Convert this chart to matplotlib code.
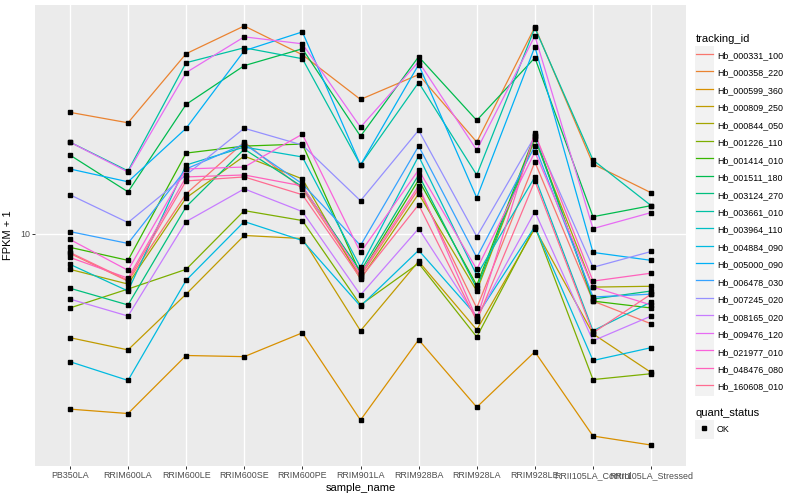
import matplotlib
matplotlib.use('Agg')
import matplotlib.pyplot as plt
import numpy as np
from matplotlib.lines import Line2D
from matplotlib.patches import Rectangle
from matplotlib.legend_handler import HandlerLine2D
from matplotlib.ticker import NullLocator

plt.rcParams['font.family'] = ['Liberation Sans', 'DejaVu Sans']

# sample names (x axis)
samples = ["PB350LA", "RRIM600LA", "RRIM600LE", "RRIM600SE", "RRIM600PE",
           "RRIM901LA", "RRIM928BA", "RRIM928LA", "RRIM928LE",
           "RRII105LA_Control", "RRII105LA_Stressed"]

tracking_ids = ["Hb_000331_100", "Hb_000358_220", "Hb_000599_360", "Hb_000809_250",
                "Hb_000844_050", "Hb_001226_110", "Hb_001414_010", "Hb_001511_180",
                "Hb_003124_270", "Hb_003661_010", "Hb_003964_110", "Hb_004884_090",
                "Hb_005000_090", "Hb_006478_030", "Hb_007245_020", "Hb_008165_020",
                "Hb_009476_120", "Hb_021977_010", "Hb_048476_080", "Hb_160608_010"]

# FPKM + 1 per gene, one value per sample
hb_000331_100 = [9.12, 8.02, 12.02, 15.28, 12.30, 8.20, 12.30, 7.08, 13.93, 7.31, 6.58]
hb_000358_220 = [17.54, 16.71, 23.02, 26.18, 22.91, 18.62, 20.89, 15.28, 26.06, 13.80, 12.08]
hb_000599_360 = [4.43, 4.34, 5.68, 5.65, 6.31, 4.21, 6.11, 4.47, 5.78, 3.91, 3.75]
hb_000809_250 = [6.17, 5.83, 7.55, 9.91, 9.77, 6.37, 8.79, 6.40, 10.23, 6.28, 5.25]
hb_000844_050 = [8.47, 7.91, 11.80, 14.32, 12.88, 8.09, 12.02, 7.66, 15.49, 7.80, 7.83]
hb_001226_110 = [7.08, 7.73, 8.47, 11.12, 10.62, 7.18, 8.71, 6.19, 10.33, 5.08, 5.22]
hb_001414_010 = [9.38, 8.83, 14.52, 15.00, 15.14, 8.28, 12.82, 7.87, 15.78, 7.31, 7.08]
hb_001511_180 = [14.39, 12.13, 18.20, 21.78, 23.55, 15.70, 22.70, 16.90, 22.59, 10.81, 11.38]
hb_003124_270 = [7.76, 7.18, 11.32, 14.79, 12.42, 8.40, 13.12, 7.76, 15.63, 7.38, 7.66]
hb_003661_010 = [15.28, 13.37, 22.08, 23.66, 22.49, 13.74, 20.14, 13.12, 25.94, 14.06, 11.38]
hb_003964_110 = [8.67, 7.66, 13.74, 14.93, 14.26, 8.55, 14.32, 8.24, 13.00, 6.37, 7.28]
hb_004884_090 = [5.52, 5.06, 8.05, 10.57, 9.68, 7.14, 9.25, 6.82, 10.33, 5.55, 5.89]
hb_005000_090 = [13.49, 12.71, 16.29, 23.34, 25.47, 13.74, 21.88, 11.80, 23.77, 9.16, 8.83]
hb_006478_030 = [10.09, 9.55, 13.49, 15.14, 12.59, 9.46, 15.00, 8.95, 15.00, 7.45, 7.55]
hb_007245_020 = [11.97, 10.52, 13.12, 16.29, 15.07, 11.64, 16.14, 9.86, 15.70, 8.55, 9.20]
hb_008165_020 = [7.38, 6.82, 10.57, 12.30, 11.07, 7.52, 10.23, 6.76, 11.07, 6.08, 6.82]
hb_009476_120 = [15.28, 13.30, 21.09, 24.89, 24.10, 16.37, 22.18, 14.72, 25.00, 10.23, 11.02]
hb_021977_010 = [9.73, 8.43, 13.49, 13.61, 15.85, 9.16, 13.43, 8.47, 14.59, 7.80, 7.18]
hb_048476_080 = [8.95, 8.13, 13.00, 13.12, 12.47, 8.28, 12.47, 6.73, 15.92, 8.02, 8.32]
hb_160608_010 = [9.16, 8.05, 12.76, 13.00, 11.97, 8.13, 11.43, 6.67, 12.76, 6.31, 7.55]

series = [hb_000331_100, hb_000358_220, hb_000599_360, hb_000809_250, hb_000844_050,
          hb_001226_110, hb_001414_010, hb_001511_180, hb_003124_270, hb_003661_010,
          hb_003964_110, hb_004884_090, hb_005000_090, hb_006478_030, hb_007245_020,
          hb_008165_020, hb_009476_120, hb_021977_010, hb_048476_080, hb_160608_010]

# ggplot hue palette for 20 levels
colours = ["#F8766D", "#EA8331", "#D89000", "#C09B00", "#A3A500", "#7CAE00", "#39B600",
           "#00BB4E", "#00BF7D", "#00C1A3", "#00BFC4", "#00BAE0", "#00B0F6", "#35A2FF",
           "#9590FF", "#C77CFF", "#E76BF3", "#FA62DB", "#FF62BC", "#FF6C91"]


class KeyHandler(HandlerLine2D):
    # grey key box behind the legend line, like ggplot
    def create_artists(self, legend, orig_handle, xdescent, ydescent,
                       width, height, fontsize, trans):
        pad = 2.2
        bg = Rectangle((-xdescent - 1, -ydescent - pad), width + 2, height + 2 * pad,
                       facecolor="#F2F2F2", edgecolor="none", transform=trans)
        arts = super().create_artists(legend, orig_handle, xdescent, ydescent,
                                      width, height, fontsize, trans)
        return [bg] + list(arts)


fig = plt.figure(figsize=(8, 5), dpi=100)
ax = fig.add_axes([35 / 800, 34 / 500, 651 / 800, 461 / 500])
ax.set_facecolor("#EBEBEB")

x = np.arange(len(samples))
for vals, col in zip(series, colours):
    ax.plot(x, vals, color=col, linewidth=0.9, zorder=2)
for vals in series:
    ax.plot(x, vals, linestyle="none", marker="s", markersize=2.5,
            color="black", zorder=3)

ax.set_yscale("log")
lo = np.log10(min(min(s) for s in series))
hi = np.log10(max(max(s) for s in series))
span = hi - lo
ax.set_ylim(10 ** (lo - 0.05 * span), 10 ** (hi + 0.05 * span))
ax.set_xlim(-0.6, len(samples) - 0.4)
ax.set_yticks([10])
ax.set_yticklabels(["10"])
ax.yaxis.set_minor_locator(NullLocator())
ax.set_xticks(x)
ax.set_xticklabels(samples)

ax.grid(True, color="white", linewidth=1.0)
ax.set_axisbelow(True)
for sp in ax.spines.values():
    sp.set_visible(False)
ax.tick_params(axis="both", length=2.0, width=0.7, color="#333333",
               labelcolor="#4D4D4D", labelsize=6.4, pad=1.5)

ax.set_xlabel("sample_name", fontsize=8, labelpad=2)
ax.set_ylabel("FPKM + 1", fontsize=8, labelpad=5)

legend_style = dict(loc="upper left", frameon=False, fontsize=6.4, title_fontsize=8,
                    handlelength=1.9, handleheight=1.75, handletextpad=0.45,
                    labelspacing=0.58, borderpad=0, borderaxespad=0,
                    alignment="left", handler_map={Line2D: KeyHandler()})

# tracking_id legend
handles = [Line2D([], [], color=c, linewidth=0.9) for c in colours]
leg1 = fig.legend(handles, tracking_ids, title="tracking_id",
                  bbox_to_anchor=(696 / 800, 1 - 34 / 500), **legend_style)

# quant_status legend
ok = Line2D([], [], linestyle="none", marker="s", markersize=2.5, color="black")
leg2 = fig.legend([ok], ["OK"], title="quant_status",
                  bbox_to_anchor=(696 / 800, 1 - 408 / 500), **legend_style)

fig.savefig("out.png", dpi=100)
